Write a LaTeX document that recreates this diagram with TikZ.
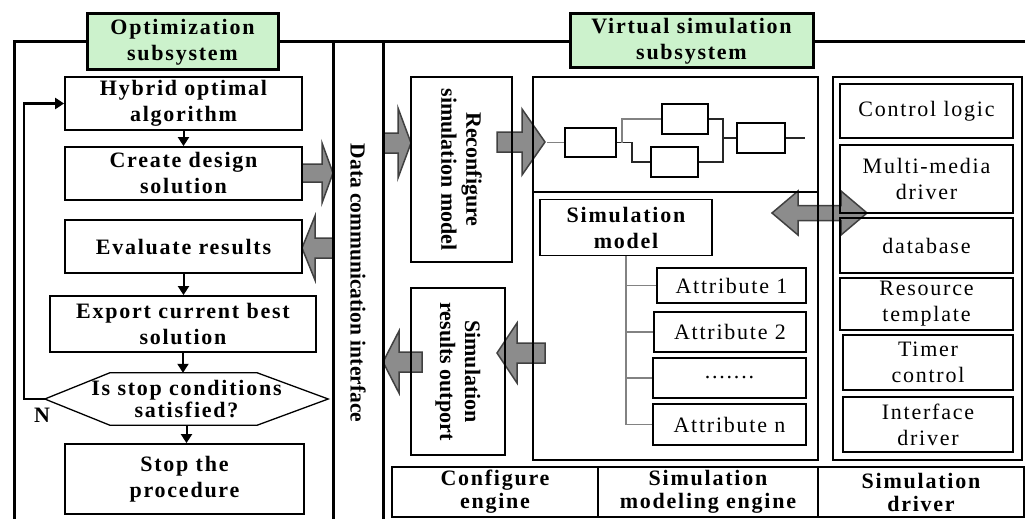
\documentclass[tikz,border=0pt]{standalone}
\usepackage{fontspec}
\setmainfont{Liberation Serif}
\newfontfamily\spaced[LetterSpace=8]{Liberation Serif}
\usetikzlibrary{arrows.meta,calc}

\definecolor{titlegreen}{RGB}{204,242,204}
\definecolor{arrowgray}{RGB}{140,140,140}
\definecolor{treegray}{RGB}{130,130,130}

\tikzset{
  frame/.style={line width=3pt},
  box/.style={draw, line width=1.8pt, inner sep=0pt, align=center,
    font=\spaced\bfseries\fontsize{22}{26}\selectfont},
  plainbox/.style={box, font=\spaced\fontsize{22}{26}\selectfont},
  titlebox/.style={box, line width=3pt, fill=titlegreen},
  enginebox/.style={box, line width=1.5pt, font=\spaced\bfseries\fontsize{22}{23}\selectfont},
  flow/.style={line width=2pt, -{Triangle[length=9pt,width=11pt]}},
  barrow/.style={fill=arrowgray, draw=black!75, line width=1.5pt, line join=miter},
  wire/.style={line width=1.5pt, draw=black!85},
  greywire/.style={line width=1.5pt, draw=treegray},
  treeline/.style={line width=1.8pt, draw=treegray},
  blk/.style={draw, line width=1.8pt, inner sep=0pt},
}

% block arrow: tip, angle, total length, head length, head half-width, shaft half-width
\newcommand{\blockarrow}[6]{%
  \begin{scope}[shift={#1}, rotate=#2]
    \draw[barrow] (0,0) -- (-#4,#5) -- (-#4,#6) -- (-#3,#6) -- (-#3,-#6)
      -- (-#4,-#6) -- (-#4,-#5) -- cycle;
  \end{scope}}

\begin{document}
\begin{tikzpicture}[x=1pt,y=-1pt]
\useasboundingbox (0,0) rectangle (1025,519);

% wide arrows between the parts (drawn below the frames)
\blockarrow{(333,173)}{0}{31}{11}{30}{9}
\blockarrow{(411,143)}{0}{28}{13}{35}{10}
\blockarrow{(545,142)}{0}{48}{23}{33}{10}
\blockarrow{(302,248)}{180}{31}{13}{32}{10}
\blockarrow{(383,362)}{180}{39}{16}{31}{10}
\blockarrow{(497,353)}{180}{48}{20}{30}{10}
\draw[barrow] (772,213) -- (798,191) -- (798,205.5) -- (841,205.5) -- (841,191)
  -- (867,213) -- (841,235) -- (841,220.5) -- (798,220.5) -- (798,235) -- cycle;

% subsystem frames
\draw[frame] (14,522) -- (14,42) -- (1027,42);
\draw[frame] (333,42) -- (333,522);
\draw[frame] (383,42) -- (383,522);

\node[titlebox, minimum width=191pt, minimum height=56pt] (optt) at (182.5,42) {Optimization\\subsystem};
\node[titlebox, minimum width=243pt, minimum height=54pt] (virt) at (691.5,41) {Virtual simulation\\subsystem};

% optimization flow
\node[box, minimum width=237pt, minimum height=53pt] (hyb) at (183.5,103.5) {Hybrid optimal\\algorithm};
\node[box, minimum width=237pt, minimum height=53pt] (crt) at (183.5,173.5) {Create design\\solution};
\node[box, minimum width=237pt, minimum height=53pt] (evl) at (183.5,246.5) {Evaluate results};
\node[box, minimum width=266pt, minimum height=56pt] (exp) at (183,324) {Export current best\\solution};
\node[inner sep=0pt, align=center, minimum width=283pt, minimum height=52pt,
  font=\spaced\bfseries\fontsize{22}{22}\selectfont] (dec) at (186.5,399) {Is stop conditions\\satisfied?};
\draw[line width=1.3pt] (dec.west) -- ($(dec.north west)+(65,0)$) -- ($(dec.north east)+(-71,0)$)
  -- (dec.east) -- ($(dec.south east)+(-71,0)$) -- ($(dec.south west)+(65,0)$) -- cycle;
\node[box, minimum width=239pt, minimum height=70pt] (stp) at (184.5,479) {Stop the\\procedure};

\draw[flow] (hyb.south) -- (crt.north);
\draw[flow] (evl.south) -- (evl.south |- exp.north);
\draw[flow] (exp.south) -- (exp.south |- dec.north);
\draw[flow] (dec.south) -- (dec.south |- stp.north);
\coordinate (fbk) at (24,0);
\draw[flow, line width=2.6pt] (dec.west) -- (dec.west -| fbk) -- (fbk |- hyb.west) -- (hyb.west);
\node[font=\bfseries\fontsize{22}{26}\selectfont] (nlab) at (42,415) {N};

% interface column
\node[rotate=-90, font=\bfseries\fontsize{21.5}{26}\selectfont] (dci) at (358,283) {Data communication interface};

% configure / outport boxes
\node[box, rotate=-90, minimum width=185pt, minimum height=101pt,
  font=\bfseries\fontsize{22}{25}\selectfont] (rcf) at (461.5,169.5) {Reconfigure\\simulation model};
\node[box, rotate=-90, minimum width=167pt, minimum height=94pt,
  font=\bfseries\fontsize{22}{25}\selectfont] (outp) at (458,371.5) {Simulation\\results outport};

% modelling area
\node[draw, line width=1.8pt, minimum width=285pt, minimum height=383pt] (mdl) at (675.5,268.5) {};
\coordinate (divy) at (0,192);
\draw[line width=1.8pt] (mdl.west |- divy) -- (mdl.east |- divy);

% process chain
\node[blk, minimum width=51pt, minimum height=29pt] (b1) at (590.5,142.5) {};
\node[blk, minimum width=46pt, minimum height=30pt] (b2) at (685,119) {};
\node[blk, minimum width=47pt, minimum height=30pt] (b3) at (674.5,162) {};
\node[blk, minimum width=48pt, minimum height=30pt] (b4) at (761,138) {};
\coordinate (cin) at (547,142.5);
\coordinate (cout) at (805,138);
\coordinate (splitu) at (622,0);
\coordinate (splitd) at (632,0);
\coordinate (merge) at (723,0);
\draw[greywire] (cin) -- (b1.west);
\draw[wire] (b1.east) -- (b1.east -| splitd) -- (splitd |- b3.west) -- (b3.west);
\draw[greywire] (b1.east -| splitu) -- (splitu |- b2.west) -- (b2.west);
\draw[wire] (b2.east) -- (b2.east -| merge) -- (merge |- b4.west) -- (b4.west);
\draw[wire] (b3.east) -- (b3.east -| merge) -- (merge |- b4.west);
\draw[wire] (b4.east) -- (cout);

% simulation model and its attributes
\node[box, minimum width=172pt, minimum height=56pt] (smd) at (626,227.5) {Simulation\\model};
\node[plainbox, minimum width=149pt, minimum height=35pt] (a1) at (731.5,285.5) {Attribute 1};
\node[plainbox, minimum width=152pt, minimum height=40pt] (a2) at (730,332) {Attribute 2};
\node[plainbox, minimum width=153pt, minimum height=40pt] (a3) at (729.5,378) {.......};
\node[plainbox, minimum width=153pt, minimum height=41pt] (an) at (729.5,424.5) {Attribute n};
\draw[treeline] (smd.south) -- (smd.south |- an.west) -- (an.west);
\draw[treeline] (smd.south |- a1.west) -- (a1.west);
\draw[treeline] (smd.south |- a2.west) -- (a2.west);
\draw[treeline] (smd.south |- a3.west) -- (a3.west);

% driver stack
\node[draw, line width=1.8pt, minimum width=189pt, minimum height=383pt] (drv) at (927.5,268.5) {};
\node[plainbox, minimum width=173pt, minimum height=54pt] (ctl) at (926.5,111) {Control logic};
\node[plainbox, minimum width=173pt, minimum height=68pt] (mmd) at (926.5,179) {Multi-media\\driver};
\node[plainbox, minimum width=173pt, minimum height=55pt] (dbs) at (926.5,245.5) {database};
\node[plainbox, minimum width=173pt, minimum height=52pt] (rtp) at (926.5,304) {Resource\\template};
\node[plainbox, minimum width=170pt, minimum height=55pt] (tmc) at (928,362.5) {Timer\\control};
\node[plainbox, minimum width=170pt, minimum height=55pt] (ifd) at (928,424.5) {Interface\\driver};

% engines
\node[enginebox, minimum width=206pt, minimum height=50pt] (ceng) at (495,492) {Configure\\engine};
\node[enginebox, minimum width=220pt, minimum height=50pt] (meng) at (708,492) {Simulation\\modeling engine};
\node[enginebox, minimum width=206pt, minimum height=50pt] (deng) at (921,492) {Simulation\\driver};

\end{tikzpicture}
\end{document}
